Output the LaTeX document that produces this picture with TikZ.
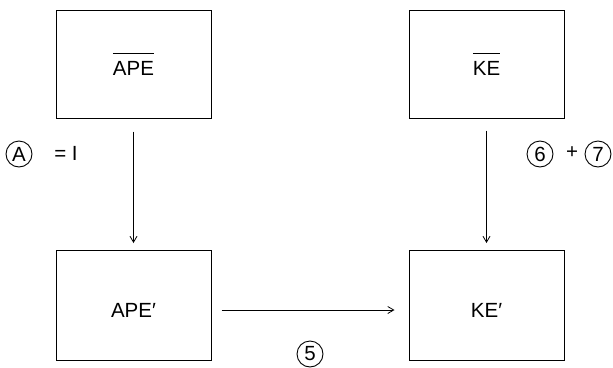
\documentclass[tikz,border=0pt]{standalone}
\usepackage{fontspec}
\setmainfont{Liberation Sans}
\usetikzlibrary{arrows.meta}
\newcommand{\barra}[1]{\vbox{\hrule height 0.9pt\kern 7pt\hbox{#1}}}

\begin{document}
\begin{tikzpicture}[x=1pt,y=-1pt,
    every node/.style={font=\fontsize{20.5}{24}\selectfont},
    caja/.style={draw,line width=1pt,minimum width=155pt,minimum height=108pt,
      text height=23pt,text depth=0pt,inner sep=0pt},
    flecha/.style={-{Straight Barb[length=6pt,width=7pt]},line width=0.8pt},
    circulo/.style={draw,circle,line width=0.9pt,minimum size=26pt,inner sep=0pt}]
  \useasboundingbox (0,0) rectangle (613,367);

  % Cajas
  \node[caja] (apebar) at (133.5,64) {\barra{APE}};
  \node[caja] (kebar) at (486.5,64) {\barra{KE}};
  \node[caja,minimum height=110pt] (apeprime) at (133.5,305.5) {APE′};
  \node[caja,minimum height=110pt] (keprime) at (486.5,305.5) {KE′};

  % Flechas
  \begin{scope}[flecha]
      \draw[shorten <=13pt,shorten >=7pt] (apebar) -- (apeprime);
      \draw[shorten <=12pt,shorten >=7pt] (kebar) -- (keprime);
      \draw[shorten <=10pt,shorten >=14pt] ([yshift=-4.5pt]apeprime.east) -- ([yshift=-4.5pt]keprime.west);
  \end{scope}

  % Etiquetas
  \node[circulo] (a) at (19,154) {A};
  \node (uno) at (66,153) {= I};
  \node[circulo] (seis) at (540,154) {6};
  \node (mas) at (572,153) {+};
  \node[circulo] (siete) at (598,154) {7};
  \node[circulo] (cinco) at (310,354) {5};
\end{tikzpicture}
\end{document}
